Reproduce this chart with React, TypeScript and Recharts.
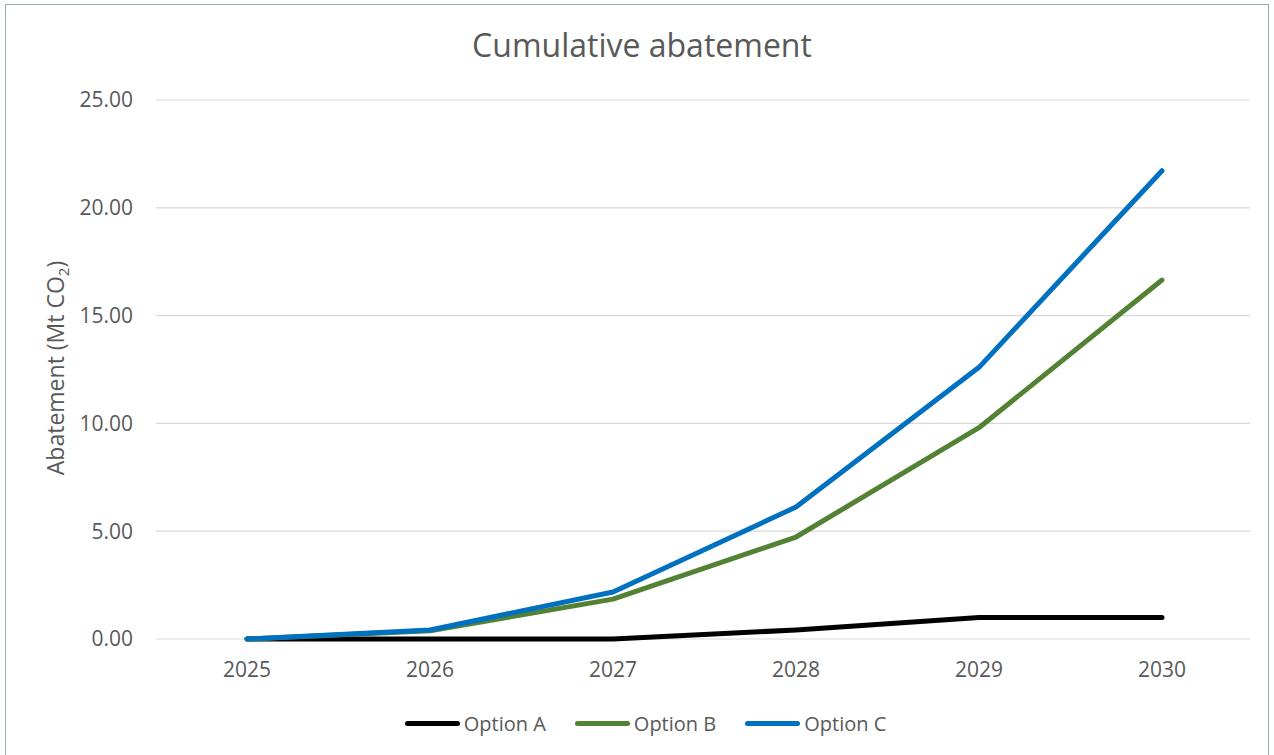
import { LineChart, Line, XAxis, YAxis, CartesianGrid } from 'recharts';

const years = ['2025', '2026', '2027', '2028', '2029', '2030'];
const optionA = [0, 0, 0, 0.42, 1.0, 1.0];
const optionB = [0, 0.38, 1.85, 4.73, 9.8, 16.65];
const optionC = [0, 0.42, 2.18, 6.12, 12.6, 21.72];
const yTicks = [0, 5, 10, 15, 20, 25];

const series = [
  { key: 'optionA', name: 'Option A', color: '#000000' },
  { key: 'optionB', name: 'Option B', color: '#548235' },
  { key: 'optionC', name: 'Option C', color: '#0070C0' },
];

const data = years.map((year, i) => ({
  year,
  optionA: optionA[i],
  optionB: optionB[i],
  optionC: optionC[i],
}));

const FONT = '"Open Sans", sans-serif';
const TEXT = '#595959';

const YLabel = () => (
  <text
    x={64}
    y={368}
    transform="rotate(-90, 64, 368)"
    textAnchor="middle"
    fill={TEXT}
    fontSize={23}
    fontFamily={FONT}
  >
    Abatement (Mt CO
    <tspan fontSize={15} dy={5}>2</tspan>
    <tspan dy={-5}>)</tspan>
  </text>
);

const App = () => {
  return (
    <div style={{ position: 'absolute', left: 0, top: 0, width: 1274, height: 755, background: '#fff', overflow: 'hidden', fontFamily: FONT }}>
      <div
        style={{
          position: 'absolute',
          left: 5,
          top: 4,
          width: 1264,
          height: 760,
          border: '1.5px solid #91AEB3',
          boxSizing: 'border-box',
        }}
      />
      <div
        style={{
          position: 'absolute',
          left: 0,
          top: 23,
          width: 1284,
          textAlign: 'center',
          fontSize: 32,
          color: TEXT,
          lineHeight: '44px',
        }}
      >
        Cumulative abatement
      </div>

      <div style={{ position: 'absolute', left: 0, top: 0 }}>
        <LineChart
          width={1274}
          height={755}
          data={data}
          margin={{ top: 100, right: 24, left: 76, bottom: 66 }}
        >
          <CartesianGrid vertical={false} stroke="#D9D9D9" strokeWidth={1.2} />
          <XAxis
            dataKey="year"
            height={50}
            axisLine={false}
            tickLine={false}
            tickSize={0}
            tickMargin={23}
            padding={{ left: 91, right: 88 }}
            tick={{ fill: TEXT, fontSize: 21, fontFamily: FONT }}
          />
          <YAxis
            width={80}
            domain={[0, 25]}
            ticks={yTicks}
            axisLine={false}
            tickLine={false}
            tickSize={0}
            tickMargin={23}
            tickFormatter={(v: number) => v.toFixed(2)}
            tick={{ fill: TEXT, fontSize: 21, fontFamily: FONT }}
            label={<YLabel />}
          />
          {series.map((s) => (
            <Line
              key={s.key}
              type="linear"
              dataKey={s.key}
              name={s.name}
              stroke={s.color}
              strokeWidth={5}
              strokeLinecap="round"
              strokeLinejoin="round"
              dot={false}
              activeDot={false}
              isAnimationActive={false}
            />
          ))}
        </LineChart>
      </div>

      <div
        style={{
          position: 'absolute',
          left: 0,
          top: 708,
          width: 1291,
          display: 'flex',
          justifyContent: 'center',
          alignItems: 'center',
          height: 30,
        }}
      >
        {series.map((s, i) => (
          <div key={s.key} style={{ display: 'flex', alignItems: 'center', marginLeft: i === 0 ? 0 : 29 }}>
            <div style={{ width: 55, height: 5, borderRadius: 3, background: s.color, marginRight: 4 }} />
            <span style={{ fontSize: 20, color: TEXT }}>{s.name}</span>
          </div>
        ))}
      </div>
    </div>
  );
};

export default App;
